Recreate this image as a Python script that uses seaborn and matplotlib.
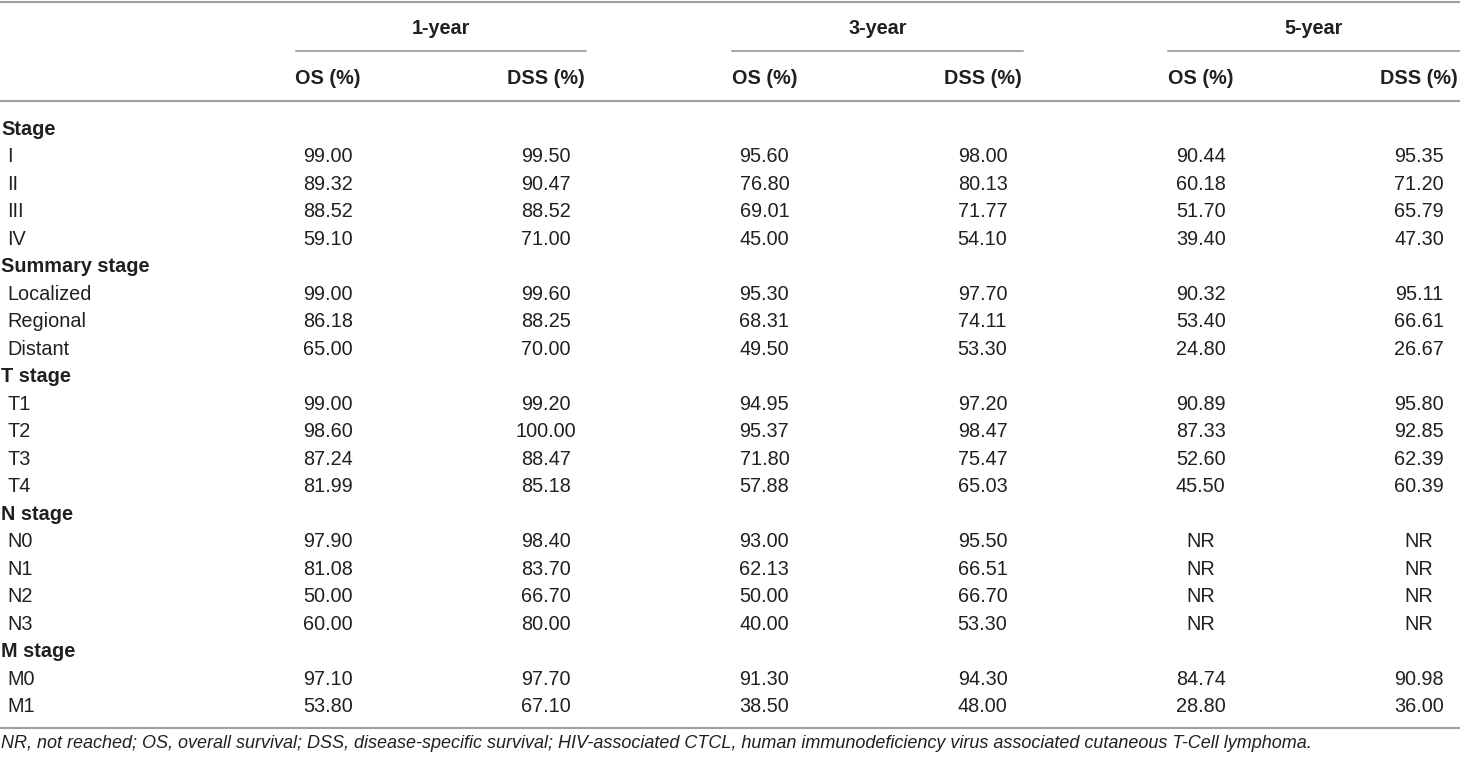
import numpy as np
import pandas as pd
import seaborn as sns
import matplotlib.pyplot as plt
from matplotlib.colors import ListedColormap
from matplotlib.transforms import Affine2D, blended_transform_factory

sns.set_theme(style="white")
plt.rcParams['font.family'] = ['Liberation Sans', 'DejaVu Sans']

W, H = 1460, 758
INK = "#231f20"
RULE = "#a0a0a0"
FS = 14.3

# ---- table content ----
sections = ["Stage", "Summary stage", "T stage", "N stage", "M stage"]
section_items = [
    ["I", "II", "III", "IV"],
    ["Localized", "Regional", "Distant"],
    ["T1", "T2", "T3", "T4"],
    ["N0", "N1", "N2", "N3"],
    ["M0", "M1"],
]
periods = ["1-year", "3-year", "5-year"]
measures = ["OS (%)", "DSS (%)"]

NR = None
os_1yr = [99.00, 89.32, 88.52, 59.10, 99.00, 86.18, 65.00, 99.00, 98.60, 87.24, 81.99,
          97.90, 81.08, 50.00, 60.00, 97.10, 53.80]
dss_1yr = [99.50, 90.47, 88.52, 71.00, 99.60, 88.25, 70.00, 99.20, 100.00, 88.47, 85.18,
           98.40, 83.70, 66.70, 80.00, 97.70, 67.10]
os_3yr = [95.60, 76.80, 69.01, 45.00, 95.30, 68.31, 49.50, 94.95, 95.37, 71.80, 57.88,
          93.00, 62.13, 50.00, 40.00, 91.30, 38.50]
dss_3yr = [98.00, 80.13, 71.77, 54.10, 97.70, 74.11, 53.30, 97.20, 98.47, 75.47, 65.03,
           95.50, 66.51, 66.70, 53.30, 94.30, 48.00]
os_5yr = [90.44, 60.18, 51.70, 39.40, 90.32, 53.40, 24.80, 90.89, 87.33, 52.60, 45.50,
          NR, NR, NR, NR, 84.74, 28.80]
dss_5yr = [95.35, 71.20, 65.79, 47.30, 95.11, 66.61, 26.67, 95.80, 92.85, 62.39, 60.39,
           NR, NR, NR, NR, 90.98, 36.00]

footnote = ("NR, not reached; OS, overall survival; DSS, disease-specific survival; "
            "HIV-associated CTCL, human immunodeficiency virus associated cutaneous T-Cell lymphoma.")

# ---- build the grid (section rows are empty) ----
series = [os_1yr, dss_1yr, os_3yr, dss_3yr, os_5yr, dss_5yr]
row_labels, is_section = [], []
for sec, items in zip(sections, section_items):
    row_labels.append(sec)
    is_section.append(True)
    row_labels.extend(items)
    is_section.extend([False] * len(items))

n_rows, n_cols = len(row_labels), len(series)
vals = np.full((n_rows, n_cols), np.nan)
annot = np.full((n_rows, n_cols), "", dtype=object)
item_rows = [i for i, s in enumerate(is_section) if not s]
for j, col in enumerate(series):
    for i, v in zip(item_rows, col):
        if v is None:
            annot[i, j] = "NR"
        else:
            vals[i, j] = v
            annot[i, j] = f"{v:.2f}"

columns = [f"{p} {m}" for p in periods for m in measures]
df = pd.DataFrame(np.nan_to_num(vals, nan=0.0), index=row_labels, columns=columns)

# ---- layout (pixels) ----
X0, COL_W = 328, 218.2      # centre of first value column, column pitch
Y0, ROW_H = 127, 27.5       # centre of first body row, row pitch

fig = plt.figure(figsize=(W / 100, H / 100), dpi=100)
ax = fig.add_axes([0, 0, 1, 1])
sns.heatmap(df, annot=annot, fmt="", cmap=ListedColormap(["white"]), cbar=False,
            linewidths=0, ax=ax,
            annot_kws=dict(fontsize=FS, color=INK, va="center_baseline"))

ax.set_xlim(0.5 - X0 / COL_W, 0.5 + (W - X0) / COL_W)
ax.set_ylim(0.5 + (H - Y0) / ROW_H, 0.5 - Y0 / ROW_H)
ax.axis("off")

px = Affine2D().scale(1 / W, -1 / H).translate(0, 1) + fig.transFigure
lab_tr = blended_transform_factory(px, ax.transData)
head_tr = blended_transform_factory(ax.transData, px)

# row labels
for i, (lab, sec) in enumerate(zip(row_labels, is_section)):
    ax.text(1 if sec else 7, i + 0.5, lab, transform=lab_tr, ha="left",
            va="center_baseline", fontsize=FS, color=INK,
            fontweight="bold" if sec else "normal")

# column headers
for j, name in enumerate(columns):
    ax.text(j + 0.5, 77, name.split(" ", 1)[1], transform=head_tr, ha="center",
            va="center_baseline", fontsize=FS, color=INK, fontweight="bold")

spans = [(296, 586), (732, 1023), (1168, 1460)]
for p, (x0, x1) in zip(periods, spans):
    ax.text((x0 + x1) / 2, 26.5, p, transform=px, ha="center", va="center_baseline",
            fontsize=FS, color=INK, fontweight="bold")
    ax.plot([x0, x1], [51, 51], transform=px, color=RULE, lw=1.3, clip_on=False)

# horizontal rules
for y in [1.5, 100.5, 727.5]:
    ax.plot([0, W], [y, y], transform=px, color=RULE, lw=1.5, clip_on=False)

ax.text(1, 742, footnote, transform=px, ha="left", va="center_baseline",
        fontsize=13, color=INK, style="italic")

fig.savefig("out.png", dpi=100)
